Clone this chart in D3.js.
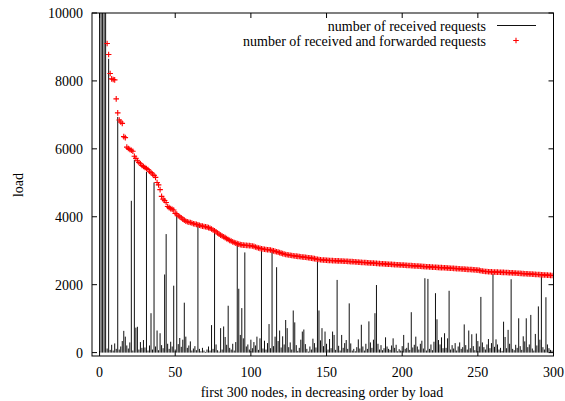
<!DOCTYPE html>
<html lang="en">
<head>
<meta charset="UTF-8">
<title>load of the first 300 nodes</title>
<script src="https://d3js.org/d3.v7.min.js"></script>
<style>
    body { margin: 0; background: #fff; }
    svg text {
        font-family: "Liberation Serif", "Times New Roman", serif;
        font-size: 14px;
        fill: #000;
    }
    .border { fill: none; stroke: #000; stroke-width: 1px; }
    .tick { stroke: #000; stroke-width: 1px; }
    .impulse { stroke: #111; stroke-width: 1px; }
    .plus { fill: none; stroke: #ff0000; stroke-width: 1.1px; }
</style>
</head>
<body>
<div id="chart"></div>
<script>
    // ticks
    var xTicks = [0, 50, 100, 150, 200, 250, 300];
    var yTicks = [0, 2000, 4000, 6000, 8000, 10000];

    // number of received requests, node 0..299 (first five go off the top)
    var received = [
        52000, 38000, 24000, 17500, 11000, 120, 8650, 80, 230, 60,
        270, 110, 6940, 90, 180, 340, 640, 470, 210, 120,
        300, 4470, 60, 5680, 735, 760, 90, 310, 140, 370,
        150, 5320, 60, 210, 1160, 90, 5010, 180, 650, 70,
        570, 220, 130, 2300, 3490, 260, 110, 320, 180, 1970,
        90, 4060, 250, 430, 170, 380, 1470, 470, 140, 210,
        330, 60, 120, 190, 70, 3735, 110, 40, 140, 60,
        20, 90, 180, 60, 810, 110, 3540, 240, 70, 30,
        720, 90, 770, 460, 230, 1380, 140, 90, 260, 60,
        310, 3195, 1880, 520, 1310, 420, 2950, 180, 240, 90,
        380, 130, 310, 210, 470, 80, 420, 3000, 120, 350,
        90, 280, 840, 130, 2960, 190, 470, 2515, 340, 650,
        150, 480, 240, 960, 720, 160, 300, 90, 1240, 890,
        220, 50, 140, 380, 620, 680, 250, 110, 30, 180,
        90, 410, 280, 150, 2690, 1240, 360, 720, 190, 620,
        260, 90, 400, 130, 620, 520, 80, 2140, 200, 60,
        520, 140, 280, 370, 110, 1450, 270, 60, 110, 40,
        160, 390, 120, 820, 180, 60, 260, 110, 920, 300,
        140, 380, 1160, 1990, 260, 90, 220, 70, 130, 450,
        180, 110, 80, 210, 420, 140, 230, 40, 100, 60,
        190, 520, 110, 140, 290, 80, 1190, 150, 230, 470,
        180, 90, 260, 350, 120, 2190, 60, 2170, 110, 240,
        70, 320, 1750, 980, 370, 240, 450, 130, 570, 140,
        420, 1820, 90, 220, 120, 280, 60, 180, 300, 110,
        160, 830, 220, 90, 650, 130, 540, 190, 70, 560,
        340, 180, 1640, 300, 160, 90, 240, 400, 130, 280,
        2320, 170, 390, 240, 90, 140, 50, 910, 460, 130,
        670, 260, 2160, 110, 70, 230, 140, 1010, 190, 80,
        480, 330, 1010, 160, 240, 1110, 120, 60, 550, 210,
        1360, 380, 2250, 160, 90, 1630, 240, 130, 80, 60
    ];

    // number of received and forwarded requests, node 0..299
    var forwarded = [
        61000, 44000, 29000, 20500, 13500, 9100, 8780, 8220, 8060, 8040,
        8030, 7470, 7060, 6850, 6790, 6750, 6360, 6330, 6050, 6010,
        5980, 5960, 5930, 5780, 5720, 5650, 5600, 5560, 5510, 5480,
        5450, 5420, 5390, 5340, 5300, 5260, 5220, 5160, 5010, 4940,
        4800, 4600, 4520, 4480, 4420, 4300, 4270, 4240, 4220, 4200,
        4100, 4080, 4030, 4000, 3970, 3930, 3900, 3870, 3855, 3840,
        3830, 3815, 3795, 3785, 3775, 3765, 3750, 3735, 3725, 3715,
        3705, 3695, 3680, 3660, 3640, 3610, 3590, 3560, 3520, 3490,
        3460, 3435, 3410, 3385, 3355, 3330, 3305, 3285, 3260, 3240,
        3225, 3210, 3195, 3180, 3172, 3166, 3162, 3158, 3154, 3150,
        3145, 3138, 3128, 3110, 3095, 3080, 3068, 3058, 3050, 3042,
        3036, 3030, 3027, 3020, 3008, 2995, 2982, 2970, 2958, 2945,
        2930, 2915, 2903, 2890, 2880, 2872, 2865, 2858, 2852, 2846,
        2840, 2834, 2829, 2823, 2817, 2811, 2806, 2800, 2795, 2789,
        2783, 2776, 2768, 2758, 2748, 2740, 2732, 2728, 2725, 2722,
        2719, 2716, 2714, 2711, 2708, 2706, 2704, 2702, 2700, 2698,
        2696, 2694, 2692, 2690, 2686, 2682, 2680, 2678, 2675, 2672,
        2668, 2665, 2661, 2658, 2655, 2652, 2649, 2646, 2643, 2640,
        2637, 2634, 2631, 2627, 2624, 2621, 2618, 2615, 2612, 2609,
        2606, 2603, 2600, 2597, 2594, 2591, 2589, 2586, 2584, 2581,
        2578, 2575, 2572, 2569, 2566, 2563, 2560, 2557, 2554, 2551,
        2548, 2545, 2542, 2539, 2536, 2533, 2530, 2527, 2524, 2521,
        2518, 2515, 2512, 2509, 2506, 2503, 2501, 2499, 2497, 2494,
        2491, 2488, 2485, 2482, 2479, 2476, 2473, 2470, 2467, 2464,
        2461, 2458, 2455, 2452, 2449, 2446, 2443, 2440, 2437, 2434,
        2430, 2422, 2412, 2402, 2395, 2390, 2386, 2383, 2380, 2377,
        2375, 2373, 2371, 2369, 2367, 2365, 2363, 2361, 2359, 2357,
        2355, 2353, 2351, 2348, 2345, 2342, 2338, 2335, 2332, 2329,
        2326, 2323, 2320, 2318, 2316, 2314, 2311, 2308, 2305, 2302,
        2299, 2296, 2293, 2290, 2287, 2284, 2281, 2278, 2275, 2272
    ];

    var width = 565, height = 401;
    // plot box (gnuplot border)
    var boxLeft = 92, boxRight = 553.5, boxTop = 13, boxBottom = 356;

    var x = d3.scaleLinear().domain([-5, 300]).range([boxLeft, boxRight]);
    var y = d3.scaleLinear().domain([-100, 10000]).range([boxBottom, boxTop]);

    var svg = d3.select("#chart").append("svg")
        .attr("width", width)
        .attr("height", height);

    svg.append("defs").append("clipPath")
        .attr("id", "plot-clip")
        .append("rect")
        .attr("x", boxLeft).attr("y", boxTop)
        .attr("width", boxRight - boxLeft).attr("height", boxBottom - boxTop);

    var plot = svg.append("g").attr("clip-path", "url(#plot-clip)");

    // impulses
    plot.append("g")
        .selectAll("line")
        .data(received)
        .enter().append("line")
            .attr("class", "impulse")
            .attr("x1", (d, i) => x(i))
            .attr("x2", (d, i) => x(i))
            .attr("y1", y(0))
            .attr("y2", d => y(d));

    // red plus points, only the ones inside the y range
    var arm = 2.8;
    var plus = (cx, cy) => "M" + (cx - arm) + "," + cy + "H" + (cx + arm) +
                           "M" + cx + "," + (cy - arm) + "V" + (cy + arm);

    plot.append("g")
        .selectAll("path")
        .data(forwarded.map((v, i) => [i, v]).filter(d => d[1] <= 10000))
        .enter().append("path")
            .attr("class", "plus")
            .attr("d", d => plus(x(d[0]), y(d[1])));

    // border
    svg.append("rect")
        .attr("class", "border")
        .attr("x", boxLeft).attr("y", boxTop)
        .attr("width", boxRight - boxLeft).attr("height", boxBottom - boxTop);

    // ticks, mirrored on both sides like gnuplot
    var tickLen = 5;
    var tickG = svg.append("g");
    yTicks.forEach(t => {
        tickG.append("line").attr("class", "tick")
            .attr("x1", boxLeft).attr("x2", boxLeft + tickLen)
            .attr("y1", y(t)).attr("y2", y(t));
        tickG.append("line").attr("class", "tick")
            .attr("x1", boxRight).attr("x2", boxRight - tickLen)
            .attr("y1", y(t)).attr("y2", y(t));
        svg.append("text")
            .attr("x", 83)
            .attr("y", y(t))
            .attr("dy", "0.35em")
            .attr("text-anchor", "end")
            .text(t);
    });
    xTicks.forEach(t => {
        tickG.append("line").attr("class", "tick")
            .attr("x1", x(t)).attr("x2", x(t))
            .attr("y1", boxBottom).attr("y2", boxBottom - tickLen);
        tickG.append("line").attr("class", "tick")
            .attr("x1", x(t)).attr("x2", x(t))
            .attr("y1", boxTop).attr("y2", boxTop + tickLen);
        svg.append("text")
            .attr("x", x(t))
            .attr("y", 372)
            .attr("dy", "0.35em")
            .attr("text-anchor", "middle")
            .text(t);
    });

    // axis labels
    svg.append("text")
        .attr("x", 322)
        .attr("y", 392)
        .attr("dy", "0.35em")
        .attr("text-anchor", "middle")
        .text("first 300 nodes, in decreasing order by load");

    svg.append("text")
        .attr("transform", "translate(18,185) rotate(-90)")
        .attr("dy", "0.35em")
        .attr("text-anchor", "middle")
        .text("load");

    // legend
    var legend = svg.append("g");
    legend.append("text")
        .attr("x", 486).attr("y", 26.5)
        .attr("dy", "0.35em")
        .attr("text-anchor", "end")
        .text("number of received requests");
    legend.append("line")
        .attr("class", "impulse")
        .attr("x1", 497).attr("x2", 536)
        .attr("y1", 25.5).attr("y2", 25.5);
    legend.append("text")
        .attr("x", 486).attr("y", 41)
        .attr("dy", "0.35em")
        .attr("text-anchor", "end")
        .text("number of received and forwarded requests");
    legend.append("path")
        .attr("class", "plus")
        .attr("d", plus(516, 40.5));
</script>
</body>
</html>
